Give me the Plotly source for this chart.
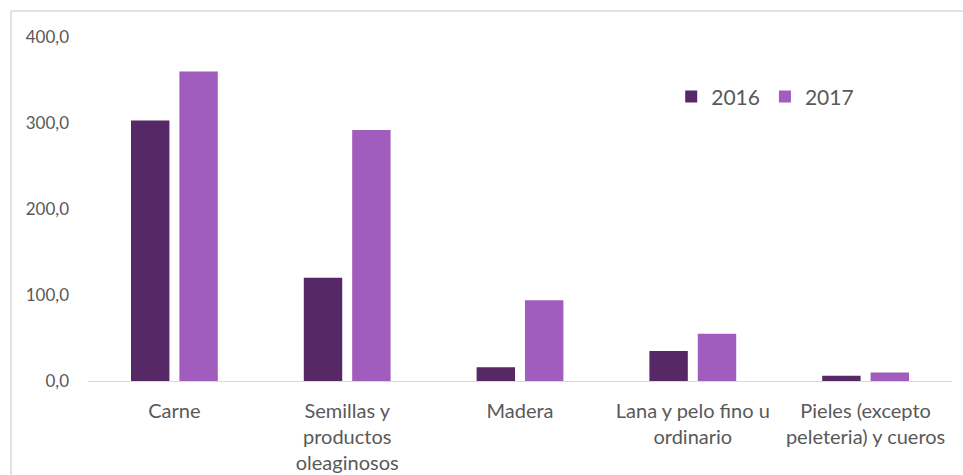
import plotly.graph_objects as go

categories = ["Carne", "Semillas y<br>productos<br>oleaginosos", "Madera",
              "Lana y pelo fino u<br>ordinario", "Pieles (excepto<br>peleteria) y cueros"]
values_2016 = [303, 120, 16, 35, 6]
values_2017 = [360, 292, 94, 55, 10]
y_tickvals = [0, 100, 200, 300, 400]
y_ticktext = ["0,0", "100,0", "200,0", "300,0", "400,0"]

FONT = "Lato, 'Open Sans', sans-serif"
GRAY = "#595959"

fig = go.Figure()
fig.add_trace(go.Bar(name="2016", x=categories, y=values_2016, marker_color="#562966",
                     marker_line_width=0))
fig.add_trace(go.Bar(name="2017", x=categories, y=values_2017, marker_color="#A15DBD",
                     marker_line_width=0))

fig.update_layout(
    width=963, height=475,
    margin=dict(l=88, r=11, t=37, b=94),
    paper_bgcolor="white", plot_bgcolor="white",
    barmode="group", bargap=0.44, bargroupgap=0.206,
    font=dict(family=FONT, color=GRAY, size=18),
    showlegend=True,
    legend=dict(orientation="h", x=0.675, y=0.826, xanchor="left", yanchor="middle",
                font=dict(size=21, color=GRAY), bgcolor="rgba(0,0,0,0)",
                itemwidth=30),
    xaxis=dict(showline=True, linecolor="#d9d9d9", linewidth=1, ticks="",
               showgrid=False, automargin=False, ticklabelstandoff=12,
               tickfont=dict(size=20, color=GRAY), fixedrange=True),
    yaxis=dict(range=[0, 400], tickvals=y_tickvals, ticktext=y_ticktext,
               showgrid=False, zeroline=False, showline=False, ticks="", automargin=False,
               ticklabelstandoff=18, tickfont=dict(size=17, color=GRAY), fixedrange=True),
    shapes=[dict(type="rect", xref="paper", yref="paper",
                 x0=(11 - 88) / 864, x1=1.2, y0=-0.6, y1=1 + 26 / 344,
                 line=dict(color="#d9d9d9", width=1.5), fillcolor="rgba(0,0,0,0)",
                 layer="below")],
)

fig.write_html("out.html", config={"displayModeBar": False},
               post_script="document.body.style.margin='0';")
